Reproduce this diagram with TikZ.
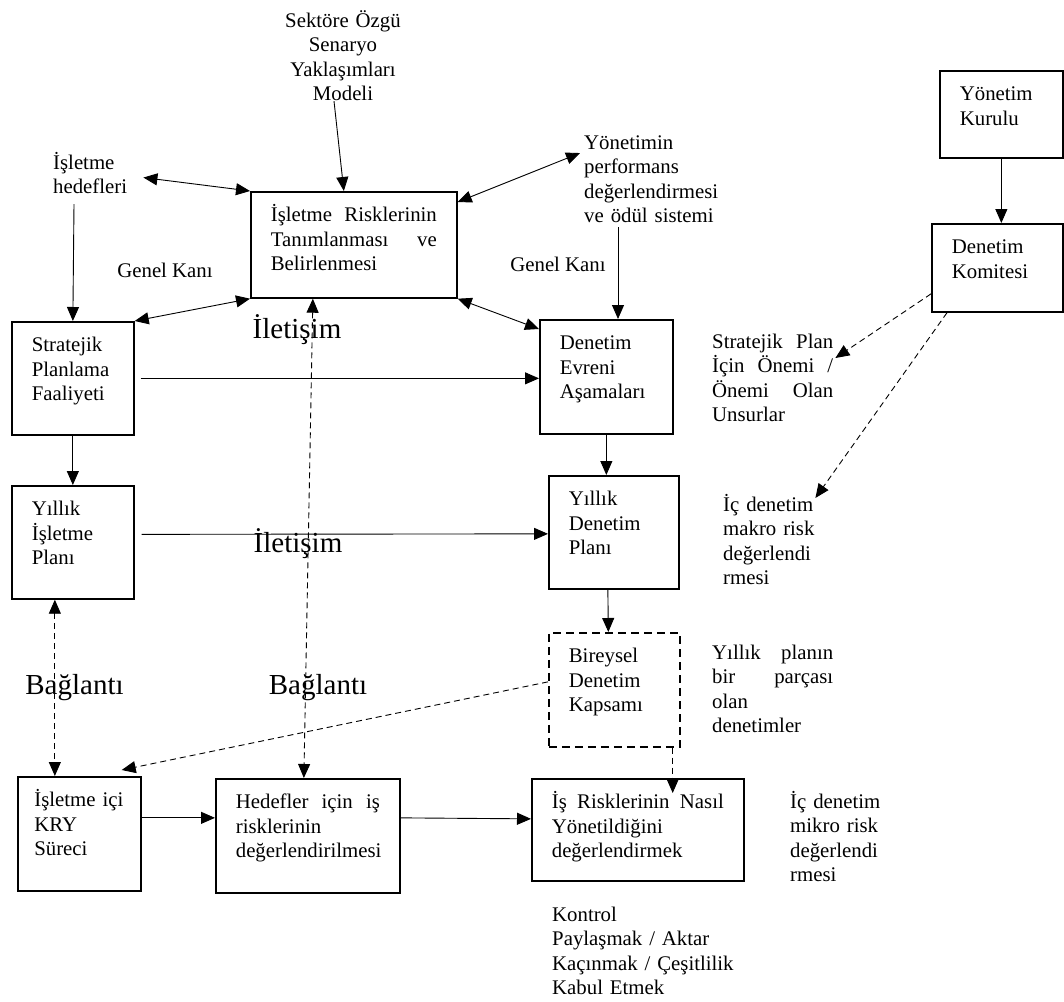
\documentclass[tikz,border=0pt]{standalone}
\usepackage{fontspec}
\setmainfont{Liberation Serif}
\usetikzlibrary{arrows.meta}

\tikzset{
  kutu/.style 2 args={draw, line width=1.7pt, inner xsep=20pt, inner ysep=0pt,
    text width=#1, text height=30pt, text depth=#2, align=left, anchor=north west},
  kesik/.style 2 args={kutu={#1}{#2}, dash pattern=on 8pt off 5pt},
  yazi/.style={inner sep=0pt, text width=#1, text height=18pt, align=left, anchor=north west},
  buyuk/.style={font=\fontsize{29}{34}\selectfont, anchor=base},
  ok/.style={line width=0.9pt, -{Triangle[length=14pt,width=12pt]}},
  ciftok/.style={line width=0.9pt, {Triangle[length=14pt,width=12pt]}-{Triangle[length=14pt,width=12pt]}},
  kesikok/.style={ok, dash pattern=on 6pt off 4pt},
  kesikcift/.style={ciftok, dash pattern=on 6pt off 4pt}
}

\begin{document}
\begin{tikzpicture}[x=1pt, y=-1pt, font=\fontsize{20.8}{24.5}\selectfont]
  \useasboundingbox (0,0) rectangle (1064,1001);

  % kutular
  \node[kutu={166pt}{76pt}] (risk) at (250,191) {İşletme\hfill Risklerinin\\ Tanımlanması\hfill ve\\ Belirlenmesi};
  \node[kutu={82pt}{83pt}] (strat) at (11,321) {Stratejik\\ Planlama\\ Faaliyeti};
  \node[kutu={82pt}{83pt}] (yip) at (11,485) {Yıllık\\ İşletme\\ Planı};
  \node[kutu={93pt}{84pt}] (evren) at (539,319) {Denetim\\ Evreni\\ Aşamaları};
  \node[kutu={90pt}{83pt}] (ydp) at (548,475) {Yıllık\\ Denetim\\ Planı};
  \node[kesik={91pt}{84pt}] (bir) at (548,632) {Bireysel\\ Denetim\\ Kapsamı};
  \node[kutu={172pt}{72pt}] (isrisk) at (531,778) {İş\hfill Risklerinin\hfill Nasıl\\ Yönetildiğini\\ değerlendirmek};
  \node[kutu={90pt}{84pt}, inner xsep=16.5pt] (kry) at (17,776) {\mbox{İşletme içi}\\ KRY\\ Süreci};
  \node[kutu={144pt}{84pt}] (hedef) at (215,778) {Hedefler\hfill için\hfill iş\\ risklerinin\\ değerlendirilmesi};
  \node[kutu={83pt}{57pt}] (yk) at (939,70) {Yönetim\\ Kurulu};
  \node[kutu={91pt}{58pt}] (komite) at (931,223) {Denetim\\ Komitesi};

  % yazilar
  \node[yazi=120pt, align=center, anchor=north] (sektor) at (343,9) {Sektöre Özgü\\ Senaryo\\ Yaklaşımları\\ Modeli};
  \node[yazi=90pt] (hed) at (53,151) {İşletme\\ hedefleri};
  \node[yazi=160pt] (yon) at (584,131) {Yönetimin\\ performans\\ değerlendirmesi\\ ve ödül sistemi};
  \node[anchor=base] (gk1) at (165,277) {Genel Kanı};
  \node[anchor=base] (gk2) at (558,271) {Genel Kanı};
  \node[buyuk] (ilet1) at (297,338) {İletişim};
  \node[buyuk] (ilet2) at (298,552) {İletişim};
  \node[buyuk] (bag1) at (74.5,694) {Bağlantı};
  \node[buyuk] (bag2) at (318,694) {Bağlantı};
  \node[yazi=121pt] (strplan) at (712,330) {Stratejik\hfill Plan\\ İçin\hfill Önemi\hfill /\\ Önemi\hfill Olan\\ Unsurlar};
  \node[yazi=100pt] (makro) at (723,493) {İç denetim\\ makro risk\\ değerlendi\\ rmesi};
  \node[yazi=121pt] (yplan) at (712,641) {Yıllık\hfill planın\\ bir\hfill parçası\\ olan\\ denetimler};
  \node[yazi=100pt] (mikro) at (790,790) {İç denetim\\ mikro risk\\ değerlendi\\ rmesi};
  \node[yazi=200pt] (kontrol) at (552,903) {Kontrol\\ Paylaşmak / Aktar\\ Kaçınmak / Çeşitlilik\\ Kabul Etmek};

  % oklar
  \draw[ok] ([xshift=-9pt]sektor.south) -- ([xshift=-10pt]risk.north);
  \draw[ciftok] ([yshift=-5pt]hed.east) -- (risk.north west);
  \draw[ok] ([xshift=21pt,yshift=-10pt]hed.south west) -- (strat.north);
  \draw[ciftok] (strat.north east) -- (risk.south west);
  \draw[ciftok] ([yshift=-11pt]risk.north east) -- ([xshift=-4pt,yshift=24pt]yon.west);
  \coordinate (yonfoot) at ([xshift=34pt,yshift=-4pt]yon.south west);
  \draw[ok] (yonfoot) -- (yonfoot |- evren.north);
  \draw[ciftok] (risk.south east) -- ([yshift=-10pt]evren.north west);
  \draw[ok] ([xshift=6pt]strat.east) -- (strat.east -| evren.west);
  \draw[ok] (strat.south) -- (yip.north);
  \draw[ok] ([xshift=7pt,yshift=8pt]yip.east) -- ([yshift=-1.5pt]ydp.west);
  \draw[ok] (evren.south) -- (evren.south |- ydp.north);
  \draw[ok] ([xshift=-6pt]ydp.south) -- ([xshift=-6pt]bir.north);
  \draw[ok] ([yshift=16pt]kry.east) -- ([yshift=18pt]hedef.west);
  \draw[ok] ([yshift=18pt]hedef.east) -- ([yshift=11pt]isrisk.west);
  \draw[ok] (yk.south) -- (yk.south |- komite.north);

  % kesikli oklar
  \draw[kesikcift] ([xshift=-41pt]risk.south) -- ([xshift=-4pt]hedef.north);
  \coordinate (yipfoot) at ([xshift=-18pt]yip.south);
  \draw[kesikcift] (yipfoot) -- (yipfoot |- kry.north);
  \draw[kesikok] ([yshift=8pt]bir.west) -- ([xshift=-20pt,yshift=6pt]kry.north east);
  \coordinate (birfoot) at ([xshift=-8pt]bir.south east);
  \draw[kesikok, shorten >=-15pt] (birfoot) -- (birfoot |- isrisk.north);
  \draw[kesikok] ([yshift=-26pt]komite.west) -- ([xshift=2pt,yshift=-28pt]strplan.north east);
  \draw[kesikok] ([xshift=16pt]komite.south west) -- ([xshift=-8pt,yshift=-5pt]makro.north east);
\end{tikzpicture}
\end{document}
